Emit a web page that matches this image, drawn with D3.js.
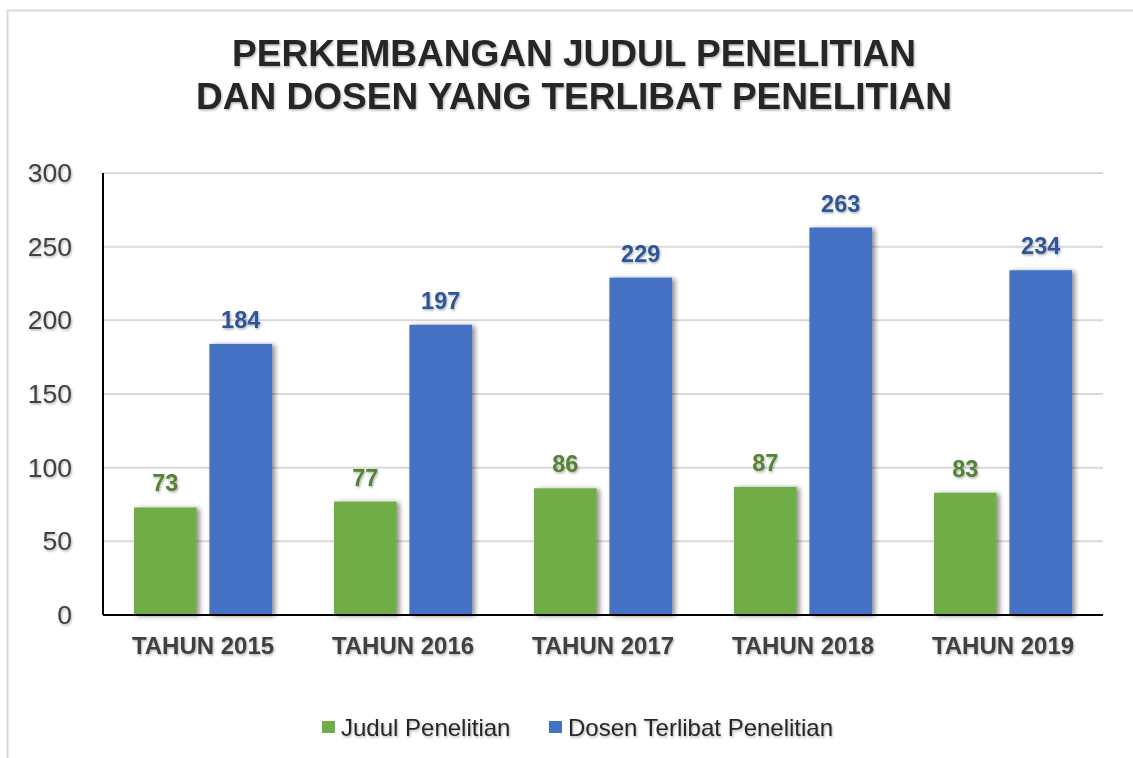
<!DOCTYPE html>
<html>
<head>
<meta charset="utf-8">
<script src="https://cdn.jsdelivr.net/npm/d3@7"></script>
<style>
  body { margin: 0; background: #fff; }
  text { font-family: "Liberation Sans", Arial, sans-serif; }
</style>
</head>
<body>
<div id="chart"></div>
<script>
// data
const years = ["TAHUN 2015", "TAHUN 2016", "TAHUN 2017", "TAHUN 2018", "TAHUN 2019"]
const judul = [73, 77, 86, 87, 83]
const dosen = [184, 197, 229, 263, 234]
const seriesNames = ["Judul Penelitian", "Dosen Terlibat Penelitian"]
const yTicks = [0, 50, 100, 150, 200, 250, 300]

const colors = ["#70ad47", "#4472c4"]
const labelColors = ["#548235", "#2f5597"]

const W = 1133, H = 758
const margin = {top: 173, right: 30, bottom: 143, left: 103}
const width = W - margin.left - margin.right,
      height = H - margin.top - margin.bottom

const svg = d3.select("#chart").append("svg")
    .attr("width", W)
    .attr("height", H)

// shadows
const defs = svg.append("defs")
defs.append("filter").attr("id", "barShadow")
    .attr("x", "-20%").attr("y", "-10%").attr("width", "150%").attr("height", "130%")
  .append("feDropShadow")
    .attr("dx", 3).attr("dy", 1).attr("stdDeviation", 2.5)
    .attr("flood-color", "#000").attr("flood-opacity", 0.45)
defs.append("filter").attr("id", "textShadow")
    .attr("x", "-10%").attr("y", "-20%").attr("width", "130%").attr("height", "150%")
  .append("feDropShadow")
    .attr("dx", 1).attr("dy", 1.5).attr("stdDeviation", 1)
    .attr("flood-color", "#000").attr("flood-opacity", 0.3)

// outer chart border
svg.append("path")
    .attr("d", `M7.5,${H} V10.5 H${W}`)
    .attr("fill", "none")
    .attr("stroke", "#d9d9d9")
    .attr("stroke-width", 2)

// title
const title = svg.append("text")
    .attr("x", 574)
    .attr("text-anchor", "middle")
    .attr("fill", "#262626")
    .attr("font-weight", "bold")
    .attr("font-size", "37px")
    .attr("filter", "url(#textShadow)")
title.append("tspan").attr("x", 574).attr("y", 66).text("PERKEMBANGAN JUDUL PENELITIAN")
title.append("tspan").attr("x", 574).attr("y", 109).text("DAN DOSEN YANG TERLIBAT PENELITIAN")

const g = svg.append("g")
    .attr("transform", `translate(${margin.left}, ${margin.top})`)

const y = d3.scaleLinear()
    .domain([0, 300])
    .range([height, 0])

const x0 = d3.scaleBand()
    .domain(years)
    .range([0, width])
    .paddingInner(0.31)
    .paddingOuter(0.155)

const x1 = d3.scaleBand()
    .domain([0, 1])
    .range([0, x0.bandwidth()])
    .paddingInner(0.17)

// gridlines
g.append("g")
    .selectAll("line")
    .data(yTicks.filter(d => d > 0))
    .join("line")
    .attr("x1", 0)
    .attr("x2", width)
    .attr("y1", d => y(d))
    .attr("y2", d => y(d))
    .attr("stroke", "#d9d9d9")
    .attr("stroke-width", 2)

// y axis labels
const yAxis = g.append("g")
    .call(d3.axisLeft(y).tickValues(yTicks).tickSize(0).tickPadding(31))
yAxis.select(".domain").remove()
yAxis.selectAll("text")
    .attr("fill", "#404040")
    .attr("font-size", "26.5px")
    .attr("font-family", "Liberation Sans, Arial, sans-serif")
    .attr("filter", "url(#textShadow)")

// bars
const rows = years.map((yr, i) => ({year: yr, values: [judul[i], dosen[i]]}))

const groups = g.selectAll(".grp")
    .data(rows)
    .join("g")
    .attr("class", "grp")
    .attr("transform", d => `translate(${x0(d.year)}, 0)`)

groups.selectAll("rect")
    .data(d => d.values.map((v, k) => ({k, v})))
    .join("rect")
    .attr("x", d => x1(d.k))
    .attr("y", d => y(d.v))
    .attr("width", x1.bandwidth())
    .attr("height", d => height - y(d.v))
    .attr("fill", d => colors[d.k])
    .attr("filter", "url(#barShadow)")

groups.selectAll(".label")
    .data(d => d.values.map((v, k) => ({k, v})))
    .join("text")
    .attr("class", "label")
    .attr("x", d => x1(d.k) + x1.bandwidth() / 2)
    .attr("y", d => y(d.v) - 16)
    .attr("text-anchor", "middle")
    .attr("fill", d => labelColors[d.k])
    .attr("font-weight", "bold")
    .attr("font-size", "23.5px")
    .attr("filter", "url(#textShadow)")
    .text(d => d.v)

// axis lines
g.append("line")
    .attr("x1", 0).attr("x2", 0)
    .attr("y1", 0).attr("y2", height)
    .attr("stroke", "#000").attr("stroke-width", 2)
g.append("line")
    .attr("x1", 0).attr("x2", width)
    .attr("y1", height).attr("y2", height)
    .attr("stroke", "#000").attr("stroke-width", 2)

// x axis labels
const xAxis = g.append("g")
    .attr("transform", `translate(0, ${height})`)
    .call(d3.axisBottom(x0).tickSize(0).tickPadding(22))
xAxis.select(".domain").remove()
xAxis.selectAll("text")
    .attr("fill", "#404040")
    .attr("font-size", "24px")
    .attr("font-weight", "bold")
    .attr("font-family", "Liberation Sans, Arial, sans-serif")
    .attr("filter", "url(#textShadow)")

// legend
const legendX = [322, 549]
const legend = svg.append("g")
    .selectAll("g")
    .data(seriesNames)
    .join("g")
    .attr("transform", (d, i) => `translate(${legendX[i]}, 727)`)
legend.append("rect")
    .attr("x", 0).attr("y", -6)
    .attr("width", 13).attr("height", 12)
    .attr("fill", (d, i) => colors[i])
legend.append("text")
    .attr("x", 19)
    .attr("y", 8.5)
    .attr("fill", "#262626")
    .attr("font-size", "24px")
    .attr("filter", "url(#textShadow)")
    .text(d => d)
</script>
</body>
</html>
